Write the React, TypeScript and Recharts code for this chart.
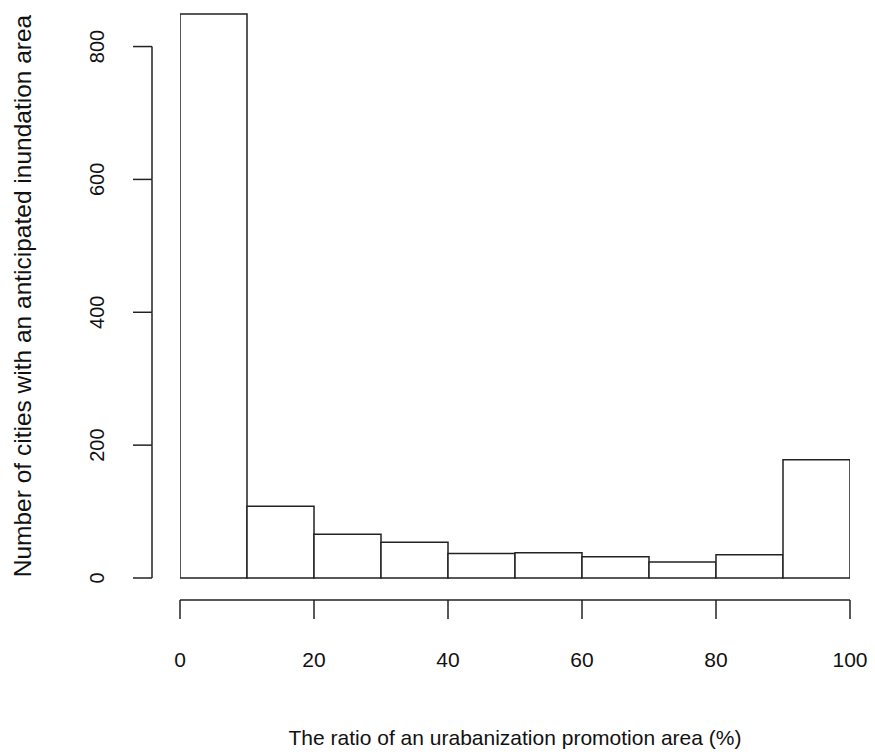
import React from 'react';
import { BarChart, Bar, XAxis, YAxis } from 'recharts';

// histogram bins (left edges) and counts
const binStarts = [0, 10, 20, 30, 40, 50, 60, 70, 80, 90];
const cityCounts = [849, 108, 66, 54, 37, 38, 32, 24, 35, 178];
const binWidth = 10;

const xTicks = [0, 20, 40, 60, 80, 100];
const yTicks = [0, 200, 400, 600, 800];

const data = binStarts.map((start, i) => ({
    mid: start + binWidth / 2,
    count: cityCounts[i]
}));

const INK = '#222';
const FONT = '"Liberation Sans", Arial, Helvetica, sans-serif';

// R style y axis: line only runs from first to last tick, labels turned 90deg
let prevTickY: number | null = null;
const renderYTick = (props: any) => {
    const { x, y, payload, index } = props;
    if (index === 0) prevTickY = null;
    const seg =
        prevTickY != null ? (
            <line x1={x} x2={x} y1={prevTickY} y2={y} stroke={INK} strokeWidth={1.5} />
        ) : null;
    prevTickY = y;
    const lx = x - 48;
    return (
        <g>
            {seg}
            <line x1={x - 19} x2={x} y1={y} y2={y} stroke={INK} strokeWidth={1.5} />
            <text
                x={lx}
                y={y}
                transform={`rotate(-90 ${lx} ${y})`}
                textAnchor="middle"
                fontSize={20}
                fill="#111"
            >
                {payload.value}
            </text>
        </g>
    );
};

const App = () => {
    return (
        <div style={{ position: 'absolute', left: 0, top: 0, fontFamily: FONT, background: '#fff' }}>
            <BarChart
                width={875}
                height={756}
                data={data}
                margin={{ top: 14, right: 25, left: 0, bottom: 0 }}
                barCategoryGap={0}
                barGap={0}
            >
                <XAxis
                    xAxisId="b"
                    dataKey="mid"
                    type="number"
                    domain={[0, 100]}
                    allowDataOverflow
                    ticks={xTicks}
                    interval={0}
                    height={156}
                    axisLine={{ stroke: INK, strokeWidth: 1.5 }}
                    tickLine={{ stroke: INK, strokeWidth: 1.5 }}
                    tickSize={19}
                    tickMargin={33}
                    tick={{ fill: '#111', fontSize: 21 }}
                    label={{
                        value: 'The ratio of an urabanization promotion area (%)',
                        position: 'insideBottom',
                        offset: 11,
                        fill: '#111',
                        fontSize: 21
                    }}
                />
                {/* spacer: pushes the x axis below the bars like R does */}
                <XAxis
                    xAxisId="a"
                    type="number"
                    domain={[0, 100]}
                    allowDataOverflow
                    height={22}
                    axisLine={false}
                    tickLine={false}
                    tick={false}
                />
                <YAxis
                    yAxisId="b"
                    domain={[0, 'dataMax']}
                    ticks={yTicks}
                    interval={0}
                    width={152}
                    axisLine={false}
                    tickLine={false}
                    tickSize={0}
                    tickMargin={0}
                    tick={renderYTick}
                    label={{
                        value: 'Number of cities with an anticipated inundation area',
                        angle: -90,
                        position: 'insideLeft',
                        offset: 22,
                        fill: '#111',
                        fontSize: 24.5,
                        style: { textAnchor: 'middle' }
                    }}
                />
                {/* spacer for the y axis */}
                <YAxis
                    yAxisId="a"
                    domain={[0, 'dataMax']}
                    width={28}
                    axisLine={false}
                    tickLine={false}
                    tick={false}
                />
                <Bar
                    xAxisId="b"
                    yAxisId="b"
                    dataKey="count"
                    fill="#fff"
                    stroke={INK}
                    strokeWidth={1.5}
                    isAnimationActive={false}
                />
            </BarChart>
        </div>
    );
};

export default App;
